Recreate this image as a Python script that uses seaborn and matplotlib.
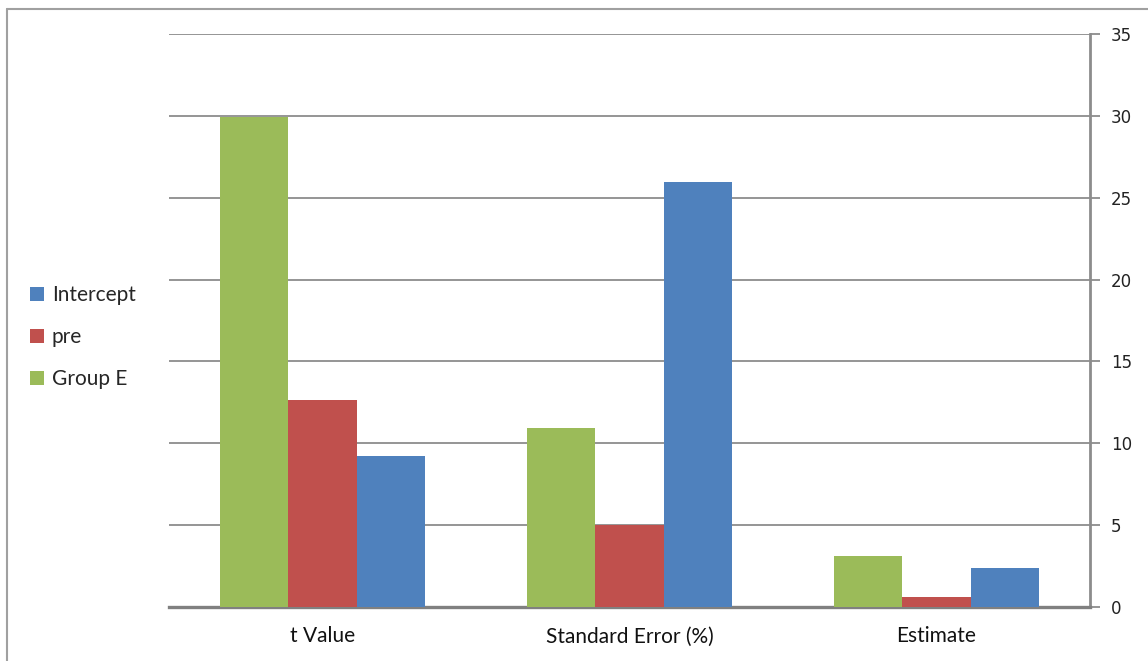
import matplotlib
matplotlib.use("Agg")
import matplotlib.pyplot as plt
from matplotlib.patches import Patch
from matplotlib.lines import Line2D
import seaborn as sns
import pandas as pd

categories = ["t Value", "Standard Error (%)", "Estimate"]
group_e = [29.9, 10.95, 3.1]
pre = [12.65, 5.0, 0.6]
intercept = [9.2, 25.95, 2.4]
series_names = ["Group E", "pre", "Intercept"]
colors = {"Group E": "#9BBB59", "pre": "#C0504D", "Intercept": "#4F81BD"}
y_ticks = [0, 5, 10, 15, 20, 25, 30, 35]

df = pd.DataFrame({
    "category": categories * 3,
    "series": ["Group E"] * 3 + ["pre"] * 3 + ["Intercept"] * 3,
    "value": group_e + pre + intercept,
})

sns.set_style("white")
plt.rcParams["font.family"] = ["Lato", "DejaVu Sans"]

fig = plt.figure(figsize=(11.48, 6.61), dpi=100)
ax = fig.add_axes([169 / 1148, 54 / 661, 921 / 1148, 573 / 661])

sns.barplot(data=df, x="category", y="value", hue="series", order=categories,
            hue_order=series_names, palette=colors, width=0.67, gap=0,
            saturation=1, edgecolor="none", linewidth=0, ax=ax, legend=False,
            zorder=3)

grid_c = "#8c8c8c"
ax.set_xlim(-0.5, 2.5)
ax.set_ylim(0, 35)
ax.yaxis.tick_right()
ax.set_yticks(y_ticks)
ax.set_yticklabels([str(t) for t in y_ticks], fontfamily="DejaVu Sans",
                   fontsize=12, color="#222222")
ax.grid(axis="y", color=grid_c, linewidth=1.3, zorder=0)
ax.set_axisbelow(True)
ax.tick_params(axis="y", which="major", direction="out", length=7, width=1.3,
               color=grid_c, pad=8)

ax.set_xticks(range(len(categories)))
ax.set_xticklabels(categories, fontsize=15, color="#111111")
ax.tick_params(axis="x", which="major", length=0, pad=14)
ax.set_xticks([-0.5, 0.5, 1.5, 2.5], minor=True)
ax.tick_params(axis="x", which="minor", direction="out", length=7, width=1.3,
               color=grid_c)
ax.set_xlabel("")
ax.set_ylabel("")

for side in ["top", "left"]:
    ax.spines[side].set_visible(False)
ax.spines["bottom"].set_color("#808080")
ax.spines["bottom"].set_linewidth(2.4)
ax.spines["right"].set_color(grid_c)
ax.spines["right"].set_linewidth(2.0)

# outer chart frame
fig.add_artist(Line2D([7 / 1148, 1.0], [1 - 9 / 661, 1 - 9 / 661],
                      transform=fig.transFigure, color="#a0a0a0", linewidth=1.5))
fig.add_artist(Line2D([7 / 1148, 7 / 1148], [0, 1 - 9 / 661],
                      transform=fig.transFigure, color="#a0a0a0", linewidth=1.5))

handles = [Patch(facecolor=colors[n], edgecolor="none", label=n)
           for n in ["Intercept", "pre", "Group E"]]
fig.legend(handles=handles, loc="center left",
           bbox_to_anchor=(30 / 1148, 1 - 337 / 661), frameon=False,
           fontsize=15, handlelength=0.65, handleheight=0.65,
           handletextpad=0.4, labelspacing=1.05, borderaxespad=0,
           borderpad=0)

fig.savefig("out.png", dpi=100, facecolor="white")
